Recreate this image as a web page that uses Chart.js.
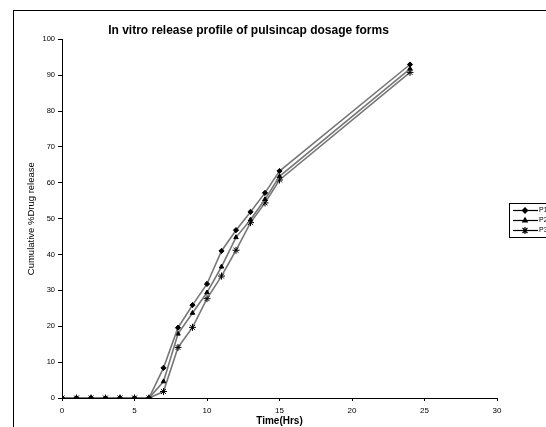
<!DOCTYPE html>
<html>
<head>
<meta charset="utf-8">
<script src="https://cdn.jsdelivr.net/npm/chart.js@4.4.0/dist/chart.umd.min.js"></script>
<style>
  html, body { margin: 0; padding: 0; background: #fff; }
  #wrap { position: relative; width: 546px; height: 427px; overflow: hidden; }
  #frame { position: absolute; left: 13px; top: 10px; width: 600px; height: 500px;
           border-top: 1px solid #000; border-left: 1px solid #000; }
  canvas { position: absolute; left: 0; top: 0; }
</style>
</head>
<body>
<div id="wrap">
  <div id="frame"></div>
  <canvas id="releaseChart" width="546" height="427"></canvas>
</div>
<script>
/*******  Data for the release profile ******/
var hours = [0, 1, 2, 3, 4, 5, 6, 7, 8, 9, 10, 11, 12, 13, 14, 15, 24];
var p1 = [0, 0, 0, 0, 0, 0, 0, 8.4, 19.6, 25.9, 31.8, 41.0, 46.8, 51.9, 57.2, 63.3, 93.0];
var p2 = [0, 0, 0, 0, 0, 0, 0, 4.6, 17.9, 23.7, 29.4, 36.6, 44.8, 49.7, 55.4, 61.8, 91.8];
var p3 = [0, 0, 0, 0, 0, 0, 0, 1.8, 14.1, 19.7, 27.7, 34.0, 41.2, 48.9, 54.4, 60.8, 90.8];
var seriesNames = ['P1', 'P2', 'P3'];
var markers = ['rectRot', 'triangle', 'star'];

function toPoints(vals) {
  return hours.map(function (h, i) { return { x: h, y: vals[i] }; });
}

function makeSet(label, vals, marker) {
  return {
    label: label,
    data: toPoints(vals),
    showLine: true,
    borderColor: '#777',
    borderWidth: 1.6,
    pointStyle: marker,
    pointRadius: marker === 'star' ? 3.5 : 2.6,
    pointBackgroundColor: '#000',
    pointBorderColor: '#000',
    pointBorderWidth: 1,
    tension: 0
  };
}

/*****  Small legend box at the right edge (cut off like the original) ********/
var sideLegend = {
  id: 'sideLegend',
  afterDraw: function (chart) {
    var c = chart.ctx;
    c.save();
    c.strokeStyle = '#000';
    c.lineWidth = 1;
    c.strokeRect(509.5, 203.5, 60, 34);
    chart.data.datasets.forEach(function (ds, i) {
      var y = 210.5 + i * 10;
      c.strokeStyle = '#000';
      c.lineWidth = 1.2;
      c.beginPath();
      c.moveTo(513, y);
      c.lineTo(538, y);
      c.stroke();
      Chart.helpers.drawPoint(c, {
        pointStyle: ds.pointStyle, radius: ds.pointRadius, borderWidth: 1, rotation: 0
      }, 525, y);
      c.fillStyle = '#000';
      c.font = '7px "Liberation Sans", Arial, sans-serif';
      c.textBaseline = 'middle';
      c.fillText(ds.label, 539, y);
    });
    c.restore();
  }
};

var ctx = document.getElementById('releaseChart');
var releaseChart = new Chart(ctx, {
  type: 'scatter',
  data: {
    datasets: [
      makeSet(seriesNames[0], p1, markers[0]),
      makeSet(seriesNames[1], p2, markers[1]),
      makeSet(seriesNames[2], p3, markers[2])
    ]
  },
  options: {
    responsive: false,
    animation: false,
    layout: { padding: { left: 0, right: 49, top: 0, bottom: 0 } },
    plugins: {
      legend: { display: false },
      tooltip: { enabled: false },
      title: {
        display: true,
        text: 'In vitro release profile of pulsincap dosage forms',
        color: '#000',
        font: { family: '"Liberation Sans", Arial, sans-serif', size: 12, weight: 'bold' },
        padding: { top: 23, bottom: 2 }
      }
    },
    scales: {
      x: {
        type: 'linear',
        min: 0, max: 30,
        ticks: { stepSize: 5, color: '#000', padding: 5,
                 font: { family: '"Liberation Sans", Arial, sans-serif', size: 8 } },
        grid: { drawOnChartArea: false, drawTicks: true, tickLength: 3, color: '#000' },
        border: { color: '#000', width: 1 },
        title: { display: true, text: 'Time(Hrs)', color: '#000', padding: { top: 0, bottom: 0 },
                 font: { family: '"Liberation Sans", Arial, sans-serif', size: 10, weight: 'bold' } },
        afterFit: function (scale) { scale.height = 29; }
      },
      y: {
        min: 0, max: 100,
        ticks: { stepSize: 10, color: '#000', padding: 3,
                 font: { family: '"Liberation Sans", Arial, sans-serif', size: 7.5 } },
        grid: { drawOnChartArea: false, drawTicks: true, tickLength: 4, color: '#000' },
        border: { color: '#000', width: 1 },
        title: { display: true, text: 'Cumulative %Drug release', color: '#000',
                 padding: { top: 26, bottom: 0 },
                 font: { family: '"Liberation Sans", Arial, sans-serif', size: 9.5 } },
        afterFit: function (scale) { scale.width = 62; }
      }
    }
  },
  plugins: [sideLegend]
});
</script>
</body>
</html>
